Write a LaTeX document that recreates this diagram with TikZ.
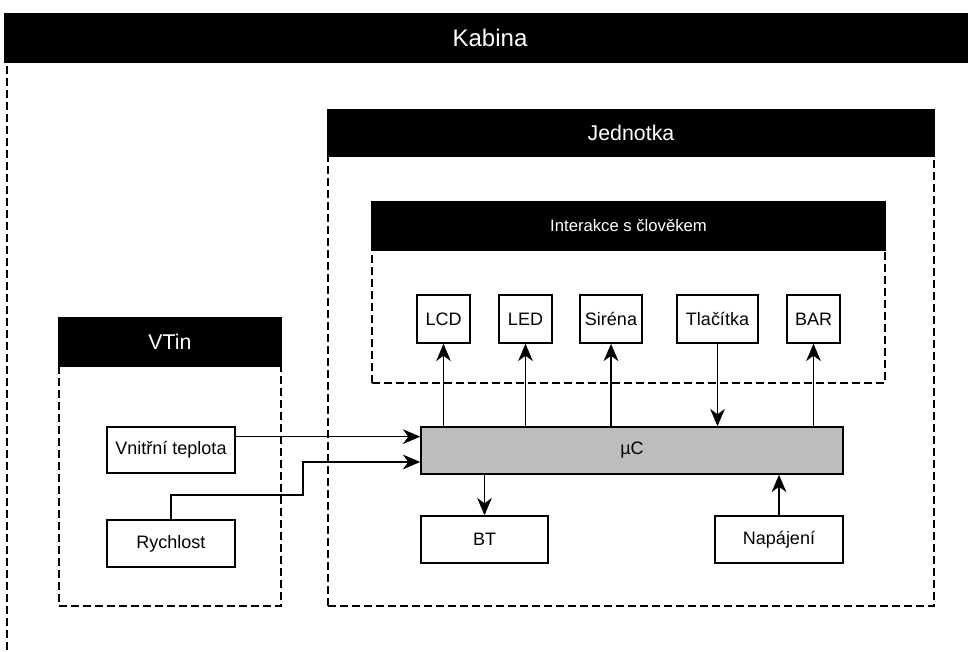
\documentclass[tikz,border=0pt]{standalone}
\usepackage{fontspec}
\setmainfont{Liberation Sans}
\usetikzlibrary{arrows.meta}
\definecolor{mcgray}{HTML}{BDBDBD}
\tikzset{
  groupbody/.style={draw, dash pattern=on 6pt off 3pt, line width=0.9pt, inner sep=0pt},
  grouphead/.style={fill=black, draw=black, line width=0.9pt, inner sep=0pt, text=white, font=\fontsize{16}{18}\selectfont},
  subhead/.style={grouphead, font=\fontsize{12.5}{14}\selectfont},
  blk/.style={draw, line width=1.1pt, fill=white, inner sep=0pt, font=\fontsize{13.5}{15}\selectfont},
  arr/.style={line width=1.2pt, -{Stealth[length=13pt,width=11pt,inset=4pt]}}
}
\begin{document}
\begin{tikzpicture}[x=0.75pt,y=-0.75pt]
\useasboundingbox (0,0) rectangle (968,651);
\clip (0,0) rectangle (968,651);
\fill[white] (0,0) rectangle (968,651);

% Kabina
\node[groupbody, minimum width=744.75pt, minimum height=514.5pt] (kabina) at (503.5,357) {};
\node[grouphead, font=\fontsize{18}{20}\selectfont, minimum width=727.5pt, minimum height=36pt] (kabinahead) at (490,38) {Kabina};

% Jednotka
\node[groupbody, minimum width=454.5pt, minimum height=372pt] (jednotka) at (631,358) {};
\node[grouphead, minimum width=454.5pt, minimum height=34.5pt] (jednotkahead) at (631,133) {Jednotka};

% Interakce s člověkem
\node[groupbody, minimum width=384.75pt, minimum height=135.75pt] (hmi) at (628.5,292.5) {};
\node[subhead, minimum width=384.75pt, minimum height=36pt] (hmihead) at (628.5,226) {Interakce s člověkem};

% VTin
\node[groupbody, minimum width=166.5pt, minimum height=216pt] (vtin) at (170,462) {};
\node[grouphead, minimum width=166.5pt, minimum height=36pt] (vtinhead) at (170,342) {VTin};

% HMI blocks
\node[blk, minimum width=39.75pt, minimum height=36pt] (lcd) at (443.5,319) {LCD};
\node[blk, minimum width=39.75pt, minimum height=36pt] (led) at (525.5,319) {LED};
\node[blk, minimum width=46.5pt, minimum height=36pt] (sir) at (611,319) {Siréna};
\node[blk, minimum width=60.75pt, minimum height=36pt] (tl) at (717.5,319) {Tlačítka};
\node[blk, minimum width=39.75pt, minimum height=36pt] (bar) at (813.5,319) {BAR};

% Microcontroller
\node[blk, fill=mcgray, minimum width=316.5pt, minimum height=35.25pt] (mc) at (632,450.5) {µC};

% Lower blocks
\node[blk, minimum width=95.25pt, minimum height=35.25pt] (bt) at (484.5,539.5) {BT};
\node[blk, minimum width=96pt, minimum height=35.25pt] (nap) at (779,539.5) {Napájení};

% VTin blocks
\node[blk, minimum width=96pt, minimum height=34.5pt] (vt) at (171,450) {Vnitřní teplota};
\node[blk, minimum width=96pt, minimum height=35.25pt] (ry) at (171,543.5) {Rychlost};

% Connectors
\draw[arr] (lcd.south |- mc.north) -- (lcd.south);
\draw[arr] (led.south |- mc.north) -- (led.south);
\draw[arr] (sir.south |- mc.north) -- (sir.south);
\draw[arr] (tl.south) -- (tl.south |- mc.north);
\draw[arr] (bar.south |- mc.north) -- (bar.south);
\draw[arr] (bt.north |- mc.south) -- (bt.north);
\draw[arr] (nap.north) -- (nap.north |- mc.south);
\draw[arr] ([yshift=10pt]vt.east) -- ([yshift=10pt]vt.east -| mc.west);
\coordinate (rybend) at (303,495);
\draw[arr] (ry.north) |- (rybend) |- ([yshift=-8.6pt]mc.west);
\end{tikzpicture}
\end{document}
